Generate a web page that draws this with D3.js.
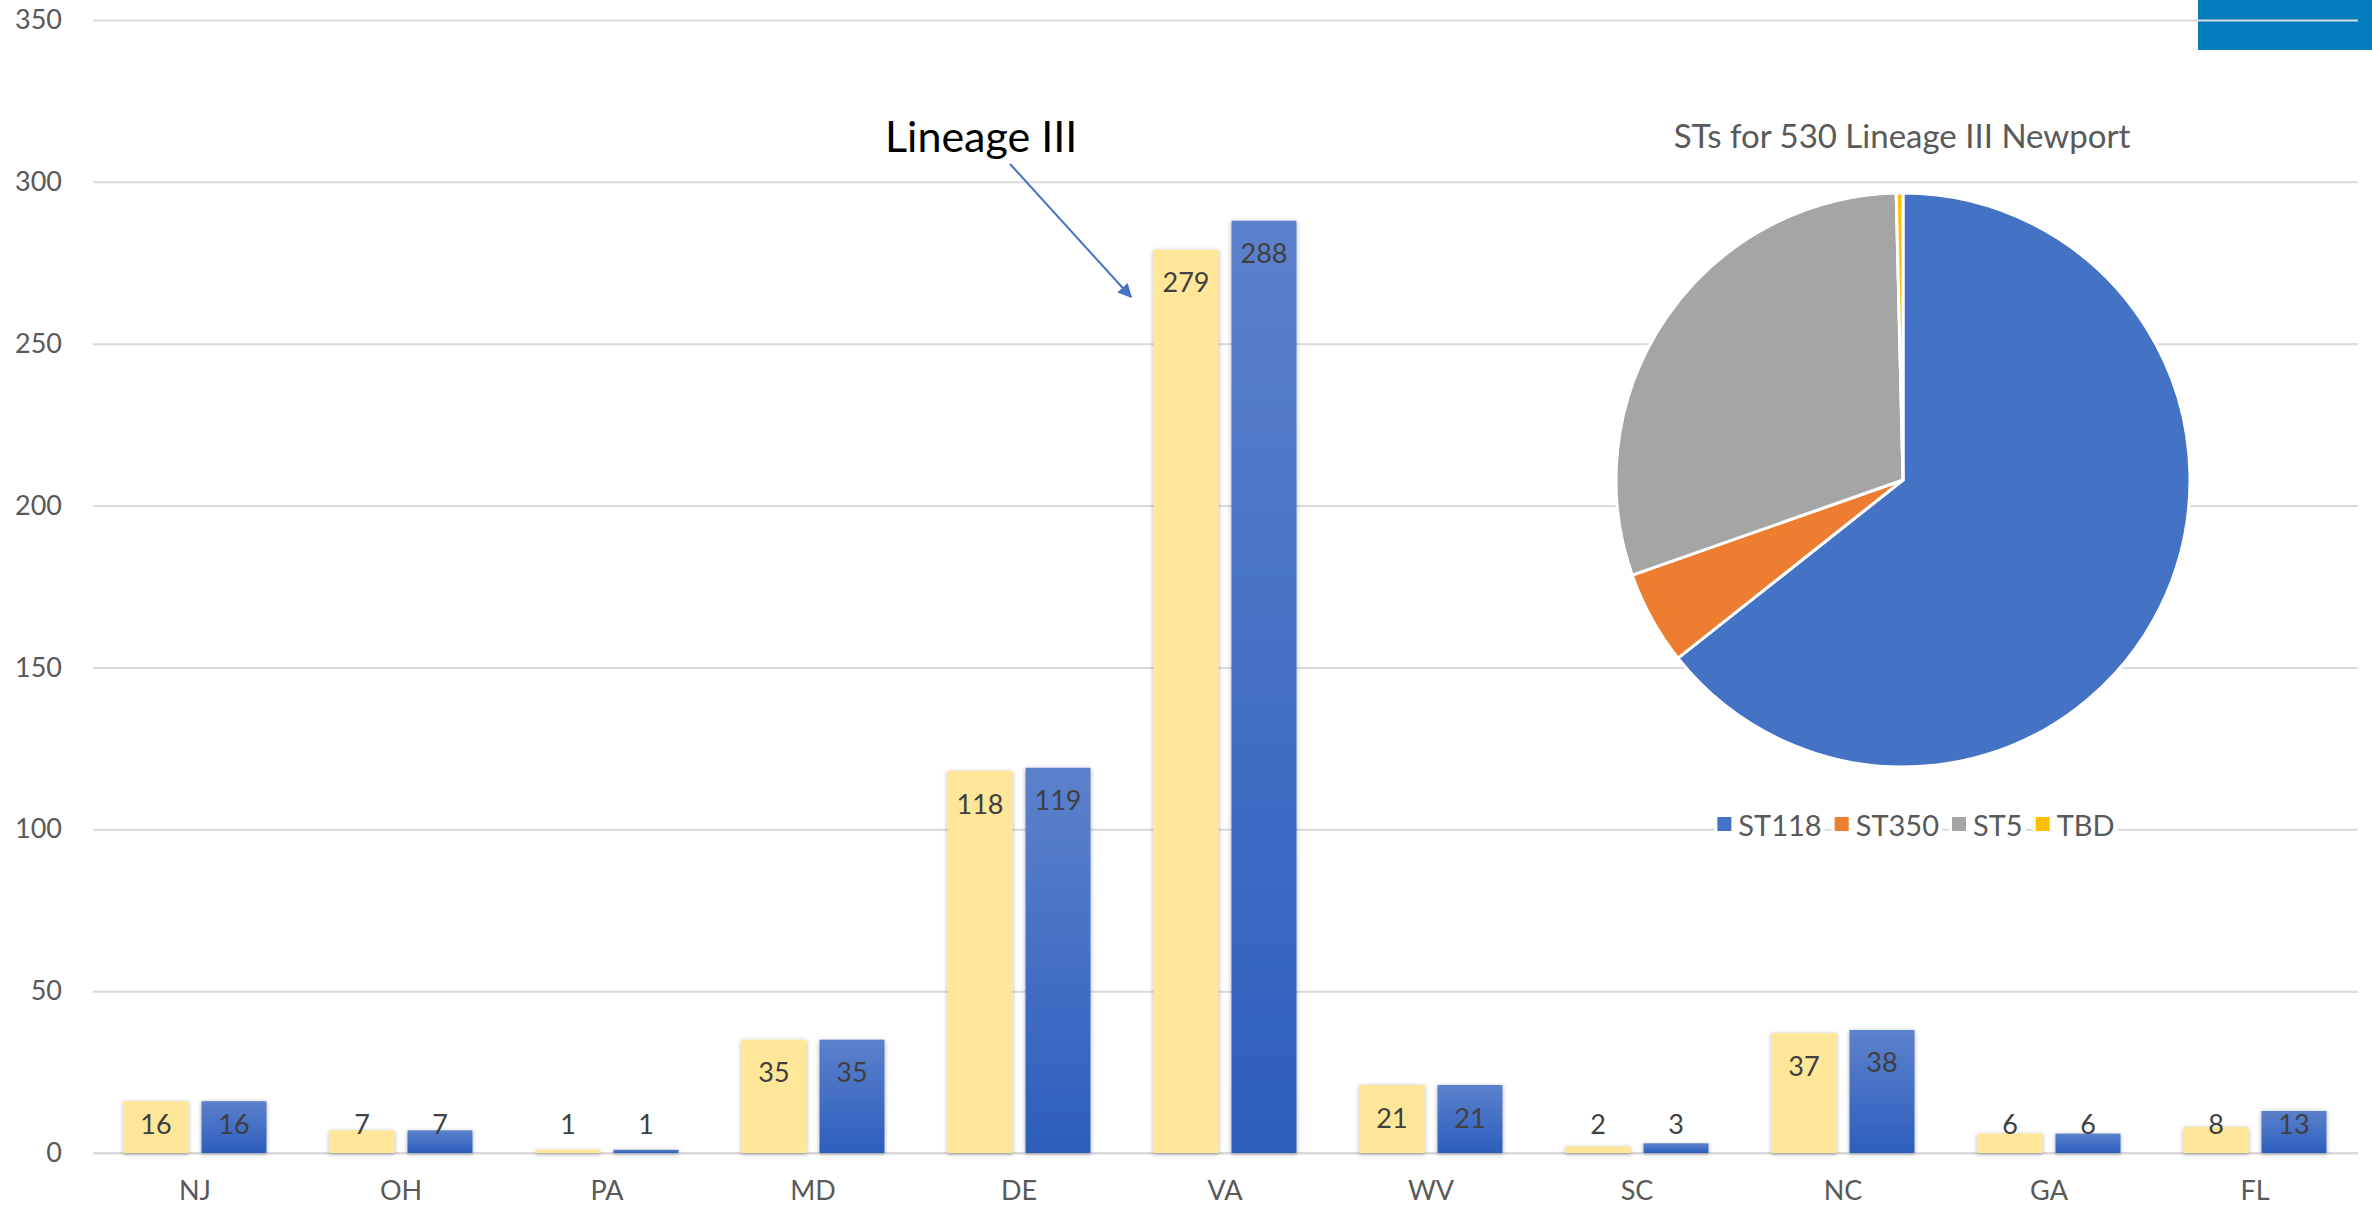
<!DOCTYPE html>
<html>
<head>
<meta charset="utf-8">
<script src="https://cdn.jsdelivr.net/npm/d3@7"></script>
<style>
  html, body { margin: 0; padding: 0; background: #ffffff; }
  svg { display: block; font-family: Lato, "Open Sans", sans-serif; }
</style>
</head>
<body>
<svg id="chart" width="2372" height="1210"></svg>
<script>
// Newport isolates per state, two series side by side
const states = ["NJ", "OH", "PA", "MD", "DE", "VA", "WV", "SC", "NC", "GA", "FL"];
const lineageCounts = [16, 7, 1, 35, 118, 279, 21, 2, 37, 6, 8];
const totalCounts = [16, 7, 1, 35, 119, 288, 21, 3, 38, 6, 13];
const yTicks = [0, 50, 100, 150, 200, 250, 300, 350];

// Sequence types for the 530 Lineage III isolates
const stNames = ["ST118", "ST350", "ST5", "TBD"];
const stCounts = [341, 28, 159, 2];
const stColors = ["#4472C4", "#ED7D31", "#A5A5A5", "#FFC000"];

const pieTitle = "STs for 530 Lineage III Newport";
const calloutText = "Lineage III";

const svg = d3.select("#chart");
const defs = svg.append("defs");

// soft shadow around the bars
const shadow = defs.append("filter").attr("id", "barShadow")
  .attr("x", "-20%").attr("y", "-5%").attr("width", "140%").attr("height", "115%");
shadow.append("feDropShadow").attr("dx", 0).attr("dy", 1)
  .attr("stdDeviation", 2.2).attr("flood-color", "#000").attr("flood-opacity", 0.35);

// blue bars fade from light at the top to deeper blue at the base
const grad = defs.append("linearGradient").attr("id", "blueGrad")
  .attr("x1", 0).attr("y1", 0).attr("x2", 0).attr("y2", 1);
grad.append("stop").attr("offset", "0%").attr("stop-color", "#5C81CC");
grad.append("stop").attr("offset", "100%").attr("stop-color", "#2C5EBC");

defs.append("marker").attr("id", "arrowHead")
  .attr("viewBox", "0 0 10 10").attr("refX", 9).attr("refY", 5)
  .attr("markerWidth", 7).attr("markerHeight", 7).attr("markerUnits", "strokeWidth")
  .attr("orient", "auto")
  .append("path").attr("d", "M0,0 L10,5 L0,10 z").attr("fill", "#4472C4");

const plotLeft = 92, plotRight = 2358;
const yBase = 1153, yTop = 20;

const y = d3.scaleLinear().domain([0, 350]).range([yBase, yTop]);
const x0 = d3.scaleBand().domain(states).range([plotLeft, plotRight])
  .paddingInner(0.306).paddingOuter(0.153);
const x1 = d3.scaleBand().domain([0, 1]).range([0, x0.bandwidth()])
  .paddingInner(0.1667).paddingOuter(0);

// corner block, top right
svg.append("rect").attr("x", 2198).attr("y", 0).attr("width", 174).attr("height", 50)
  .attr("fill", "#027CBB");

// horizontal gridlines and value axis labels
const yAxis = d3.axisLeft(y).tickValues(yTicks).tickSize(-(plotRight - plotLeft - 1)).tickPadding(31);
const gy = svg.append("g").attr("transform", `translate(${plotLeft + 1},0)`).call(yAxis);
gy.select(".domain").remove();
gy.selectAll(".tick line").attr("stroke", "#D9D9D9").attr("stroke-width", 2);
gy.selectAll(".tick text").attr("fill", "#595959").attr("font-size", 27)
  .attr("font-family", "Lato, 'Open Sans', sans-serif");

// category axis
const xAxis = d3.axisBottom(x0).tickSize(0).tickPadding(28);
const gx = svg.append("g").attr("transform", `translate(0,${yBase})`).call(xAxis);
gx.select(".domain").attr("stroke", "#D9D9D9").attr("stroke-width", 2)
  .attr("d", `M${plotLeft + 1},0H${plotRight}`);
gx.selectAll(".tick text").attr("fill", "#595959").attr("font-size", 27)
  .attr("font-family", "Lato, 'Open Sans', sans-serif");

// bars
const series = [
  { values: lineageCounts, fill: "#FFE699" },
  { values: totalCounts, fill: "url(#blueGrad)" }
];
series.forEach((s, si) => {
  const g = svg.append("g").attr("filter", "url(#barShadow)");
  g.selectAll("rect").data(states).join("rect")
    .attr("x", d => x0(d) + x1(si))
    .attr("width", x1.bandwidth())
    .attr("y", (d, i) => y(s.values[i]))
    .attr("height", (d, i) => yBase - y(s.values[i]))
    .attr("fill", s.fill);
});

// value labels at the inside end of each bar
series.forEach((s, si) => {
  svg.append("g").selectAll("text").data(states).join("text")
    .attr("x", d => x0(d) + x1(si) + x1.bandwidth() / 2)
    .attr("y", (d, i) => Math.min(y(s.values[i]) + 32, yBase - 30))
    .attr("text-anchor", "middle").attr("dominant-baseline", "central")
    .attr("font-size", 27).attr("fill", "#404040")
    .text((d, i) => s.values[i]);
});

// callout
svg.append("text").attr("x", 885).attr("y", 152)
  .attr("font-size", 43).attr("fill", "#000").text(calloutText);
svg.append("line").attr("x1", 1010).attr("y1", 164).attr("x2", 1131).attr("y2", 297)
  .attr("stroke", "#4472C4").attr("stroke-width", 2).attr("marker-end", "url(#arrowHead)");

// pie of sequence types
const pieCx = 1903, pieCy = 480, pieR = 287;
const pie = d3.pie().sort(null).value(d => d.v);
const arc = d3.arc().innerRadius(0).outerRadius(pieR);
const slices = pie(stNames.map((n, i) => ({ n, v: stCounts[i], c: stColors[i] })));
svg.append("g").attr("transform", `translate(${pieCx},${pieCy})`)
  .selectAll("path").data(slices).join("path")
  .attr("d", arc).attr("fill", d => d.data.c)
  .attr("stroke", "#ffffff").attr("stroke-width", 3).attr("stroke-linejoin", "round");

svg.append("text").attr("x", 1902).attr("y", 148).attr("text-anchor", "middle")
  .attr("font-size", 33).attr("fill", "#595959").text(pieTitle);

// legend, centred under the pie
const legend = svg.append("g");
const legFont = 29, sq = 14, sqGap = 7, itemGap = 13, legY = 824;
let cursor = 0;
const items = stNames.map((n, i) => {
  const g = legend.append("g");
  const t = g.append("text").attr("font-size", legFont).attr("fill", "#595959")
    .attr("dominant-baseline", "central").attr("y", legY).text(n);
  const w = t.node().getComputedTextLength();
  const item = { g, t, w, x: cursor, c: stColors[i] };
  cursor += sq + sqGap + w + itemGap;
  return item;
});
const legWidth = cursor - itemGap;
const legStart = 1916 - legWidth / 2;
items.forEach(it => {
  const x = legStart + it.x;
  it.g.insert("rect", "text").attr("x", x - 3).attr("y", legY - 16)
    .attr("width", sq + sqGap + it.w + 6).attr("height", 32).attr("fill", "#fff");
  it.g.insert("rect", "text").attr("x", x).attr("y", legY - sq / 2)
    .attr("width", sq).attr("height", sq).attr("fill", it.c);
  it.t.attr("x", x + sq + sqGap);
});

// small mark in the lower right corner
svg.append("path").attr("d", d3.arc()({ innerRadius: 6, outerRadius: 8, startAngle: -Math.PI, endAngle: -Math.PI / 2 }))
  .attr("transform", "translate(2375,1212)").attr("fill", "#A6A6A6");
</script>
</body>
</html>
